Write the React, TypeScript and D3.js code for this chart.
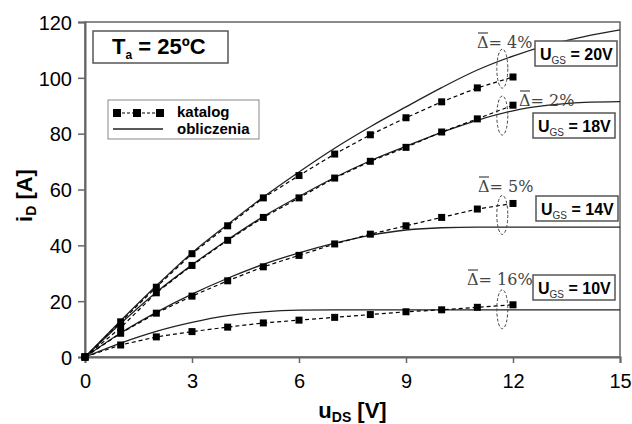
import React, { useEffect, useRef } from "react";
import * as d3 from "d3";

// ---- data ----
const catalogX = [0, 1, 2, 3, 4, 5, 6, 7, 8, 9, 10, 11, 12];
const catalog20 = [0, 12.6, 25, 37, 47, 57, 65, 72.7, 79.6, 85.7, 91.4, 96.4, 100.3];
const catalog18 = [0, 10.5, 23, 32.8, 41.8, 50, 57, 64.1, 70.1, 75.1, 80.6, 85.3, 90.2];
const catalog14 = [0, 8.5, 15.7, 21.8, 27.3, 32.3, 36.4, 40.5, 44, 47, 50, 53, 55];
const catalog10 = [0, 4.3, 7.2, 9.1, 10.7, 12.2, 13.2, 14.2, 15.2, 16.2, 16.9, 17.8, 18.7];

const calcX = [0, 1, 2, 3, 4, 5, 6, 7, 8, 9, 10, 11, 12, 13, 14, 15];
const calc20 = [0, 13, 25.5, 37.3, 47.5, 57.3, 66.3, 74.8, 82.5, 89.6, 96.5, 102.8, 107.8, 111.8, 114.8, 117.2];
const calc18 = [0, 12, 23.2, 33, 42, 50.3, 57.5, 64.3, 70.3, 75.5, 80.5, 84.8, 88.2, 90.2, 91.2, 91.5];
const calc14 = [0, 8.6, 16, 22.5, 28.2, 33.2, 37.3, 40.8, 43.6, 45.5, 46.3, 46.5, 46.5, 46.5, 46.5, 46.5];
const calc10 = [0, 5, 9.2, 12.4, 14.8, 16.2, 16.8, 16.9, 16.9, 16.9, 16.9, 16.9, 16.9, 16.9, 16.9, 16.9];

const xTicks = [0, 3, 6, 9, 12, 15];
const yTicks = [0, 20, 40, 60, 80, 100, 120];

const ugsLabels = ["20V", "18V", "14V", "10V"];
const deltaLabels = ["4%", "2%", "5%", "16%"];
const deltaEllipseY = [103.3, 86.5, 50.9, 17.1];
const ellipseX = 11.7;

const W = 632;
const H = 424;
const M = { left: 85, right: 12, top: 22, bottom: 67 };

export default function App() {
  const ref = useRef<SVGSVGElement | null>(null);

  useEffect(() => {
    const svg = d3.select(ref.current);
    svg.selectAll("*").remove();

    const x = d3.scaleLinear().domain([0, 15]).range([M.left, W - M.right]);
    const y = d3.scaleLinear().domain([0, 120]).range([H - M.bottom, M.top]);

    const g = svg.append("g");
    const font = "'Liberation Sans', Arial, sans-serif";

    // frame
    g.append("rect")
      .attr("x", x(0)).attr("y", y(120))
      .attr("width", x(15) - x(0)).attr("height", y(0) - y(120))
      .attr("fill", "none").attr("stroke", "#666").attr("stroke-width", 1.5);

    // axes
    const xAxis = d3.axisBottom(x).tickValues(xTicks).tickSize(6).tickFormat(d3.format("d") as any);
    const yAxis = d3.axisLeft(y).tickValues(yTicks).tickSize(7).tickFormat(d3.format("d") as any);
    const gx = g.append("g").attr("transform", `translate(0,${y(0)})`).call(xAxis);
    const gy = g.append("g").attr("transform", `translate(${x(0)},0)`).call(yAxis);
    [gx, gy].forEach((a) => {
      a.select(".domain").attr("stroke", "#666").attr("stroke-width", 2);
      a.selectAll(".tick line").attr("stroke", "#666").attr("stroke-width", 1.5);
      a.selectAll(".tick text").attr("font-family", font).attr("font-size", 20).attr("fill", "#000");
    });
    gx.selectAll(".tick text").attr("dy", "0.71em").attr("y", 17);
    gy.selectAll(".tick text").attr("x", -13).attr("dy", "0.36em");

    // computed curves
    const line = d3.line<number>()
      .x((_, i) => x(calcX[i]))
      .y((d) => y(d))
      .curve(d3.curveMonotoneX);
    [calc20, calc18, calc14, calc10].forEach((s) => {
      g.append("path").attr("d", line(s)).attr("fill", "none")
        .attr("stroke", "#222").attr("stroke-width", 1.3);
    });

    // catalog
    const cline = d3.line<number>()
      .x((_, i) => x(catalogX[i]))
      .y((d) => y(d));
    [catalog20, catalog18, catalog14, catalog10].forEach((s) => {
      g.append("path").attr("d", cline(s)).attr("fill", "none")
        .attr("stroke", "#000").attr("stroke-width", 1.2).attr("stroke-dasharray", "4,3");
      g.selectAll(null).data(s).enter().append("rect")
        .attr("x", (_, i) => x(catalogX[i]) - 3.5)
        .attr("y", (d) => y(d) - 3.5)
        .attr("width", 7).attr("height", 7).attr("fill", "#000");
    });

    // delta ellipses and labels
    const deltaPos = [
      { tx: 477, ty: 48 },
      { tx: 519, ty: 106 },
      { tx: 478, ty: 192 },
      { tx: 467, ty: 285 },
    ];
    deltaEllipseY.forEach((v, i) => {
      g.append("ellipse").attr("cx", x(ellipseX)).attr("cy", y(v))
        .attr("rx", 5.5).attr("ry", 19.5).attr("fill", "none")
        .attr("stroke", "#444").attr("stroke-width", 1).attr("stroke-dasharray", "3,2");
      const p = deltaPos[i];
      g.append("text").attr("x", p.tx).attr("y", p.ty)
        .attr("font-family", "'DejaVu Serif', 'Liberation Serif', serif")
        .attr("font-size", 16).attr("fill", "#444")
        .text(`Δ= ${deltaLabels[i]}`);
      g.append("line").attr("x1", p.tx + 1).attr("x2", p.tx + 11)
        .attr("y1", p.ty - 15).attr("y2", p.ty - 15)
        .attr("stroke", "#444").attr("stroke-width", 1.2);
    });

    // UGS boxes
    const boxes = [
      { x: 535, y: 41, base: 60 },
      { x: 533, y: 113, base: 132 },
      { x: 536, y: 196, base: 215 },
      { x: 533, y: 275, base: 294 },
    ];
    boxes.forEach((b, i) => {
      g.append("rect").attr("x", b.x).attr("y", b.y).attr("width", 82).attr("height", 25)
        .attr("fill", "#fff").attr("stroke", "#555").attr("stroke-width", 1.5);
      const t = g.append("text").attr("x", b.x + 5).attr("y", b.base)
        .attr("font-family", font).attr("font-weight", "bold").attr("font-size", 16).attr("fill", "#000");
      t.append("tspan").text("U");
      t.append("tspan").attr("font-size", 10).attr("font-weight", "normal").attr("dy", 4).attr("fill", "#333").text("GS");
      t.append("tspan").attr("dy", -4).text(` = ${ugsLabels[i]}`);
    });

    // Ta box
    g.append("rect").attr("x", 93).attr("y", 31).attr("width", 135).attr("height", 32)
      .attr("fill", "#fff").attr("stroke", "#555").attr("stroke-width", 1.5);
    const ta = g.append("text").attr("x", 112).attr("y", 54)
      .attr("font-family", font).attr("font-weight", "bold").attr("font-size", 22).attr("fill", "#000");
    ta.append("tspan").text("T");
    ta.append("tspan").attr("font-size", 12).attr("dy", 5).text("a");
    ta.append("tspan").attr("dy", -5).text(" = 25ºC");

    // legend
    g.append("rect").attr("x", 108).attr("y", 100).attr("width", 151).attr("height", 39)
      .attr("fill", "#fff").attr("stroke", "#888").attr("stroke-width", 1);
    g.append("line").attr("x1", 117).attr("x2", 160).attr("y1", 113).attr("y2", 113)
      .attr("stroke", "#000").attr("stroke-width", 1.2).attr("stroke-dasharray", "3,2");
    [117, 137, 160].forEach((cx) => {
      g.append("rect").attr("x", cx - 4).attr("y", 109).attr("width", 8).attr("height", 8).attr("fill", "#000");
    });
    g.append("line").attr("x1", 113).attr("x2", 163).attr("y1", 129).attr("y2", 129)
      .attr("stroke", "#222").attr("stroke-width", 1.3);
    g.append("text").attr("x", 177).attr("y", 117).attr("font-family", font)
      .attr("font-weight", "bold").attr("font-size", 15).text("katalog");
    g.append("text").attr("x", 177).attr("y", 134).attr("font-family", font)
      .attr("font-weight", "bold").attr("font-size", 15).text("obliczenia");

    // axis titles
    const xt = g.append("text").attr("x", (x(0) + x(15)) / 2).attr("y", 418)
      .attr("text-anchor", "middle").attr("font-family", font)
      .attr("font-weight", "bold").attr("font-size", 22);
    xt.append("tspan").text("u");
    xt.append("tspan").attr("font-size", 14).attr("dy", 4).text("DS");
    xt.append("tspan").attr("dy", -4).text(" [V]");

    const yt = g.append("text").attr("transform", `translate(32,${(y(0) + y(120)) / 2 + 6}) rotate(-90)`)
      .attr("text-anchor", "middle").attr("font-family", font)
      .attr("font-weight", "bold").attr("font-size", 22);
    yt.append("tspan").text("i");
    yt.append("tspan").attr("font-size", 14).attr("dy", 4).text("D");
    yt.append("tspan").attr("dy", -4).text(" [A]");
  }, []);

  return (
    <svg
      ref={ref}
      width={W}
      height={H}
      style={{ position: "absolute", left: 0, top: 0, background: "#fff" }}
    />
  );
}
